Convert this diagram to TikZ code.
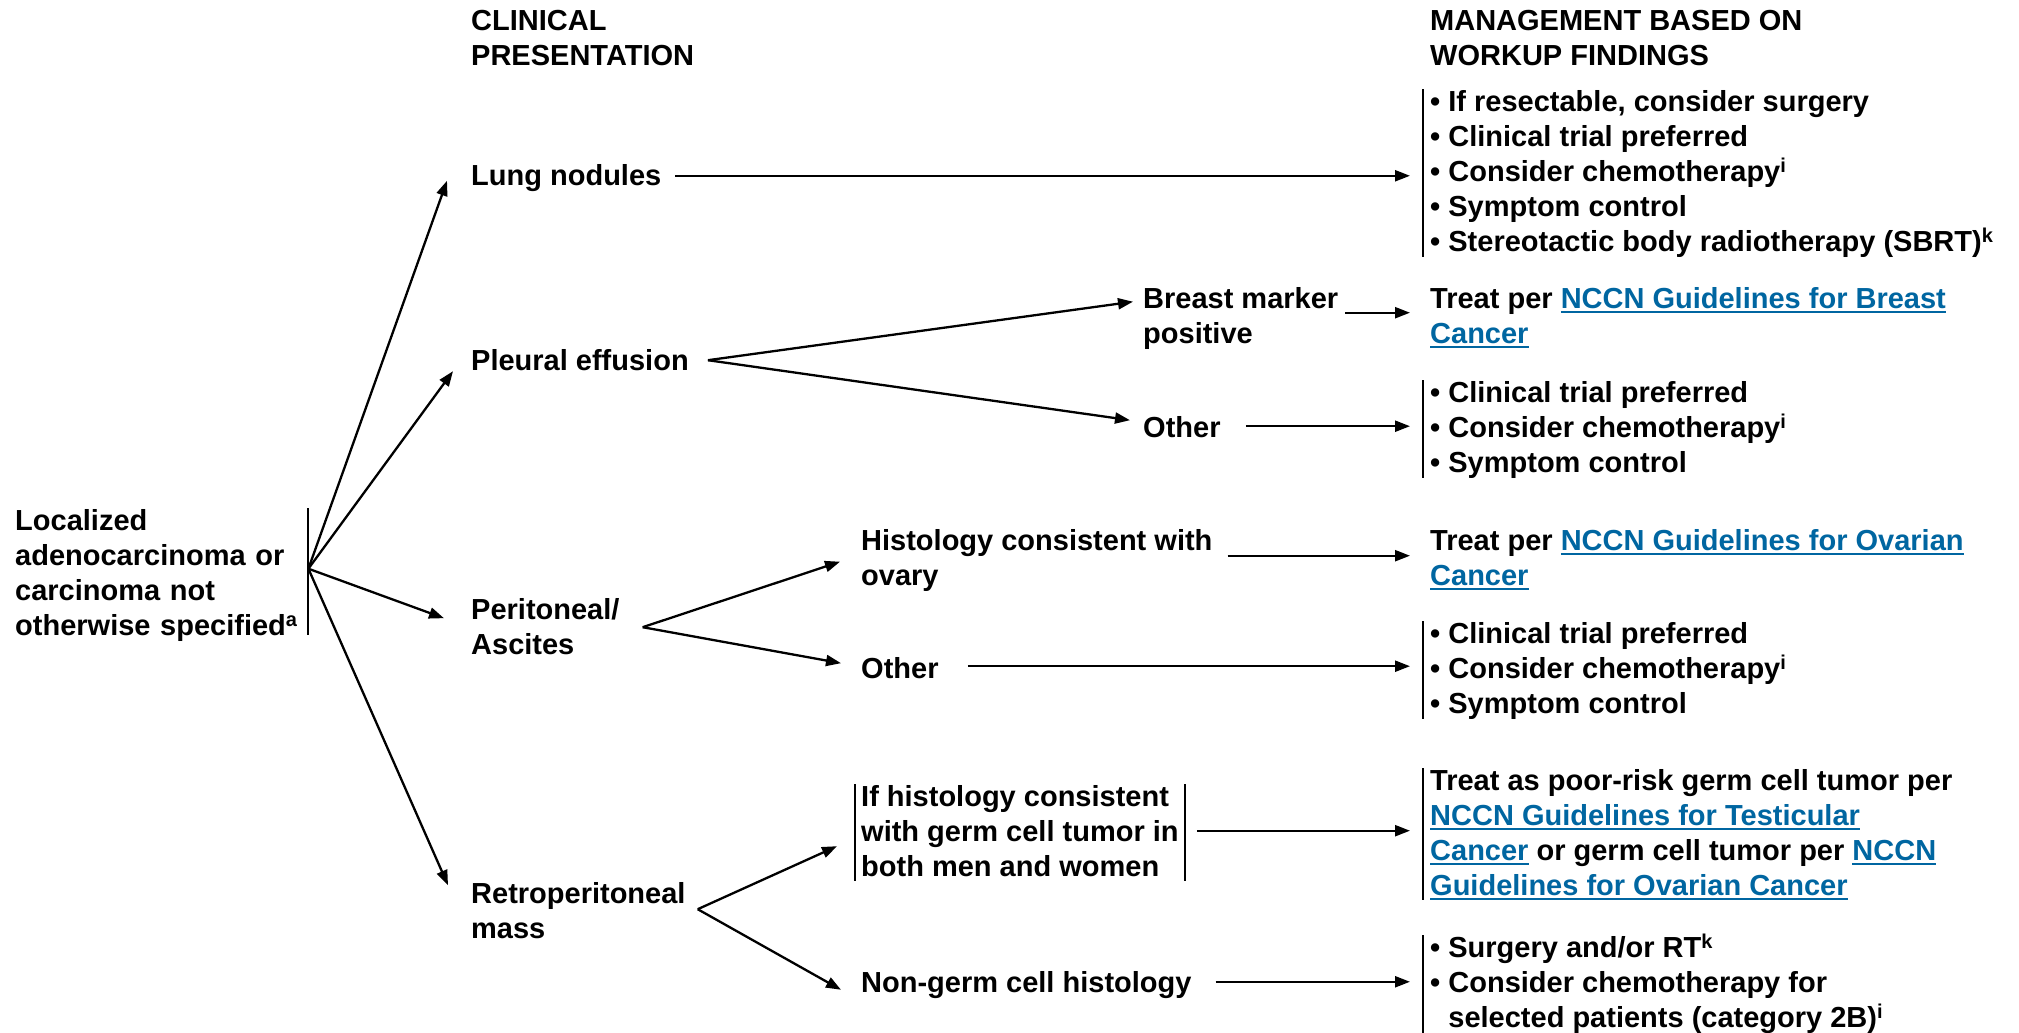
\documentclass[tikz,border=0pt]{standalone}
\usepackage{fontspec}
\setmainfont{Liberation Sans}
\usetikzlibrary{arrows.meta}
\definecolor{nccnblue}{RGB}{0,102,161}
% struts: fixed cap room on the first line, fixed depth on the last line
\newcommand\sT{\rule{0pt}{22pt}}
\newcommand\sB{\rule[-5pt]{0pt}{5pt}}
% footnote marks
\newcommand\sps[1]{\smash{\raisebox{9pt}{\fontsize{20}{20}\selectfont #1}}}
% underlined guideline links
\newcommand\lnk[1]{\textcolor{nccnblue}{\setbox0=\hbox{#1}\rlap{\rule[-5pt]{\wd0}{2.2pt}}\box0}}
% indent of a wrapped bullet line
\newcommand\ind{\hphantom{•\ }}
\begin{document}
\begin{tikzpicture}[x=1pt,y=-1pt,
  txt/.style={inner sep=0pt, anchor=north west, align=left,
              font=\fontsize{29}{35}\selectfont\bfseries},
  blk/.style={txt, inner xsep=7pt},
  bar/.style={line width=2pt},
  arr/.style={line width=2.3pt, -{Triangle[length=15pt,width=11pt]}}]
\fill[white] (0,0) rectangle (2019,1033);
\useasboundingbox (0,0) rectangle (2019,1033);

% column headings
\node[txt] (h1) at (471,8) {\sT CLINICAL\\PRESENTATION\sB};
\node[txt] (h2) at (1430,8) {\sT MANAGEMENT BASED ON\\WORKUP FINDINGS\sB};

% starting point
\node[txt, text width=293pt] (loc) at (15,508)
  {\sT Localized\\adenocarcinoma or\\carcinoma not\\otherwise specified\sps{a}\sB};

% clinical presentation
\node[txt] (lung)  at (471,163.5) {\sT Lung nodules\sB};
\node[txt] (pleu)  at (471,348)   {\sT Pleural effusion\sB};
\node[txt] (peri)  at (471,597.5) {\sT Peritoneal/\\Ascites\sB};
\node[txt] (retro) at (471,881)   {\sT Retroperitoneal\\mass\sB};

% workup findings
\node[txt] (bm)   at (1143,286) {\sT Breast marker\\positive\sB};
\node[txt] (oth1) at (1143,415) {\sT Other\sB};
\node[txt] (hist) at (861,528)  {\sT Histology consistent with\\ovary\sB};
\node[txt] (oth2) at (861,656)  {\sT Other\sB};
\node[txt, inner xsep=6pt] (germ) at (855,784)
  {\sT If histology consistent\\with germ cell tumor in\\both men and women\sB};
\node[txt] (ng)   at (861,970)  {\sT Non-germ cell histology\sB};

% management
\node[blk] (b1) at (1423,89)
  {\sT• If resectable, consider surgery\\• Clinical trial preferred\\• Consider chemotherapy\sps{i}\\• Symptom control\\• Stereotactic body radiotherapy (SBRT)\sps{k}\sB};
\node[txt] (b2) at (1430,286)
  {\sT Treat per \lnk{NCCN Guidelines for Breast}\\\lnk{Cancer}\sB};
\node[blk] (b3) at (1423,380)
  {\sT• Clinical trial preferred\\• Consider chemotherapy\sps{i}\\• Symptom control\sB};
\node[txt] (b4) at (1430,528)
  {\sT Treat per \lnk{NCCN Guidelines for Ovarian}\\\lnk{Cancer}\sB};
\node[blk] (b5) at (1423,621)
  {\sT• Clinical trial preferred\\• Consider chemotherapy\sps{i}\\• Symptom control\sB};
\node[blk] (b6) at (1423,768)
  {\sT Treat as poor-risk germ cell tumor per\\\lnk{NCCN Guidelines for Testicular}\\\lnk{Cancer} or germ cell tumor per \lnk{NCCN}\\\lnk{Guidelines for Ovarian Cancer}\sB};
\node[blk] (b7) at (1423,935)
  {\sT• Surgery and/or RT\sps{k}\\• Consider chemotherapy for\\\ind selected patients (category 2B)\sps{i}\sB};

% brackets
\draw[bar] (loc.north east) -- ([yshift=6pt]loc.south east);
\foreach \b in {b1,b3,b5,b6,b7} \draw[bar] (\b.north west) -- (\b.south west);
\draw[bar] (germ.north west) -- (germ.south west);
\draw[bar] (germ.north east) -- (germ.south east);

% first fan
\coordinate (o) at ([yshift=6pt]loc.east);
\draw[arr] (o) -- ([xshift=-24pt,yshift=-3pt]lung.west);
\draw[arr] (o) -- ([xshift=-18pt,yshift=-9.5pt]pleu.west);
\draw[arr] (o) -- ([xshift=-27pt,yshift=10.5pt]peri.west);
\draw[arr] (o) -- ([xshift=-23pt,yshift=27pt]retro.west);

% second-level fans
\coordinate (po) at ([xshift=19pt,yshift=1.5pt]pleu.east);
\draw[arr] (po) -- ([xshift=-10pt,yshift=16pt]bm.west);
\draw[arr] (po) -- ([xshift=-13pt,yshift=8.5pt]oth1.west);
\coordinate (pa) at ([xshift=23pt,yshift=1.5pt]peri.east);
\draw[arr] (pa) -- ([xshift=-21pt,yshift=-2pt]hist.west);
\draw[arr] (pa) -- ([xshift=-20pt,yshift=6.5pt]oth2.west);
\coordinate (ro) at ([xshift=12pt,yshift=3pt]retro.east);
\draw[arr] (ro) -- ([xshift=-18pt,yshift=-13.5pt]germ.west);
\draw[arr] (ro) -- ([xshift=-20pt,yshift=-5.5pt]ng.west);

% arrows into management
\coordinate (lue) at ([yshift=2pt]lung.east);
\draw[arr, shorten <=14pt, shorten >=13pt] (lue) -- (lue -| b1.west);
\coordinate (bme) at ([yshift=5pt]bm.east);
\draw[arr, shorten <=7pt, shorten >=20pt] (bme) -- (bme -| b2.west);
\coordinate (o1e) at ([yshift=2.5pt]oth1.east);
\draw[arr, shorten <=25pt, shorten >=13pt] (o1e) -- (o1e -| b3.west);
\coordinate (hie) at ([yshift=4pt]hist.east);
\draw[arr, shorten <=15pt, shorten >=20pt] (hie) -- (hie -| b4.west);
\coordinate (o2e) at ([yshift=3.5pt]oth2.east);
\draw[arr, shorten <=29pt, shorten >=13pt] (o2e) -- (o2e -| b5.west);
\coordinate (gee) at ([yshift=2pt]germ.east);
\draw[arr, shorten <=12pt, shorten >=13pt] (gee) -- (gee -| b6.west);
\coordinate (nge) at ([yshift=2.5pt]ng.east);
\draw[arr, shorten <=24pt, shorten >=13pt] (nge) -- (nge -| b7.west);
\end{tikzpicture}
\end{document}
